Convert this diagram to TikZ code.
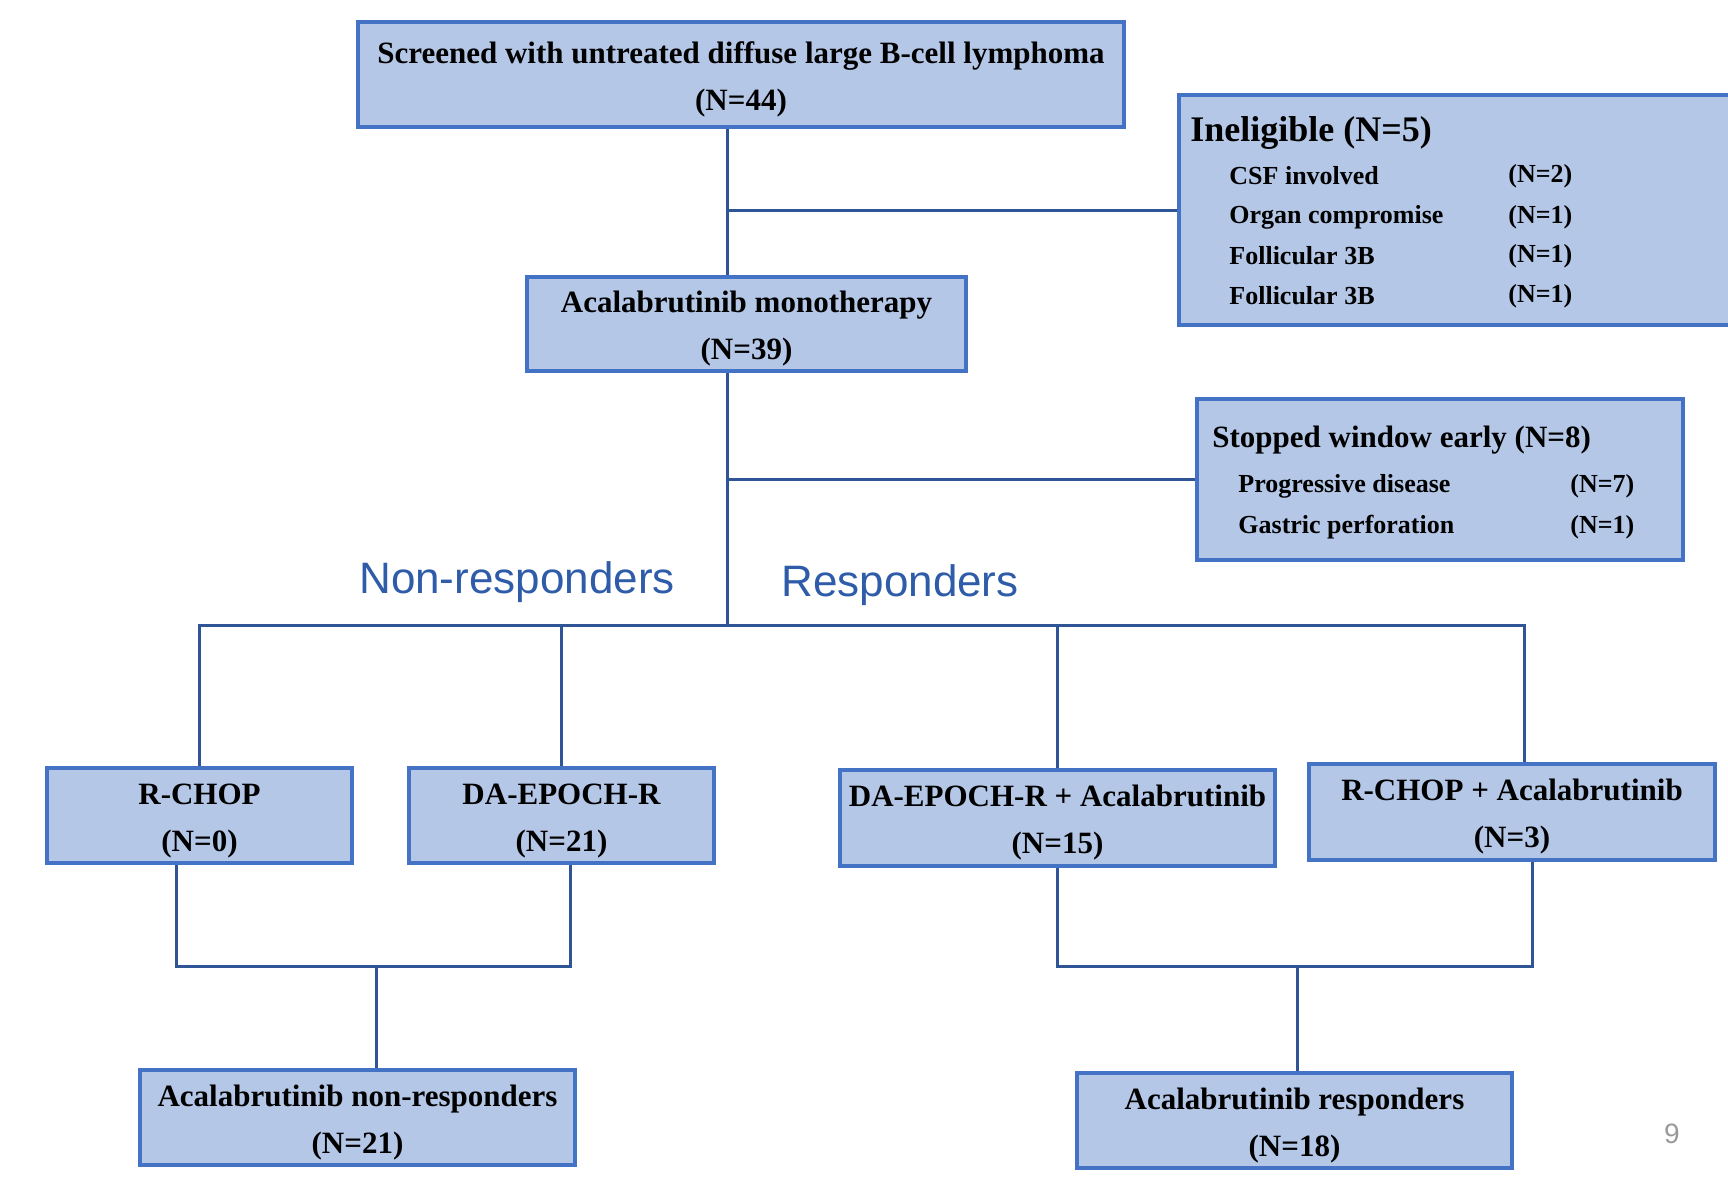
\documentclass[tikz,border=0pt]{standalone}
\usepackage{fontspec}
\setmainfont{Liberation Serif}
\newfontfamily\labelfont{Liberation Sans}
\usetikzlibrary{positioning}

\definecolor{boxfill}{HTML}{B4C7E7}
\definecolor{boxline}{HTML}{4472C4}
\definecolor{linkline}{HTML}{2F5597}
\definecolor{armblue}{HTML}{2E5CA8}

% two centred lines, the first one a little lower
\newcommand{\twolines}[2]{\rule{0pt}{15.5pt}#1\\#2}

\begin{document}
\begin{tikzpicture}[
    x=0.5pt, y=-0.5pt, % one unit is one pixel of the slide
    box/.style={draw=boxline, line width=2pt, fill=boxfill, inner sep=0pt,
        align=center, font=\fontsize{15.5}{23.5}\selectfont\bfseries},
    item/.style={anchor=west, inner sep=0pt, font=\fontsize{13}{15}\selectfont\bfseries},
    link/.style={draw=linkline, line width=1.5pt},
    arm/.style={text=armblue, font=\labelfont\fontsize{22}{26}\selectfont}
]
    \useasboundingbox (0,0) rectangle (1728,1191);
    \clip (0,0) rectangle (1728,1191);

    % Screening and window
    \node[box, minimum width=383pt, minimum height=52.5pt] (screen) at (741,74.5)
        {\twolines{Screened with untreated diffuse large B-cell lymphoma}{(N=44)}};
    \node[box, minimum width=219.5pt, minimum height=47pt] (mono) at (746.5,324)
        {\twolines{Acalabrutinib monotherapy}{(N=39)}};

    % Ineligible box (runs off the right edge)
    \node[box, minimum width=290pt, minimum height=115pt] (inelig) at (1469,210) {};
    \node[anchor=west, inner sep=0pt, font=\fontsize{18}{20}\selectfont\bfseries] (ineligtitle) at (1190,133) {Ineligible (N=5)};
    \node[item] (csf) at (1229,176) {CSF involved};
    \node[item] (organ) at (1229,217) {Organ compromise};
    \node[item] (follA) at (1229,256) {Follicular 3B};
    \node[item] (follB) at (1229,296) {Follicular 3B};
    \node[item] (csfn) at (1508,176) {(N=2)};
    \node[item] (organn) at (1508,217) {(N=1)};
    \node[item] (follAn) at (1508,256) {(N=1)};
    \node[item] (follBn) at (1508,296) {(N=1)};

    % Stopped window early box
    \node[box, minimum width=243pt, minimum height=80.5pt] (stopped) at (1440,479.5) {};
    \node[anchor=west, inner sep=0pt, font=\fontsize{15.5}{18}\selectfont\bfseries] (stoptitle) at (1212,440) {Stopped window early (N=8)};
    \node[item] (prog) at (1238,486) {Progressive disease};
    \node[item] (gastric) at (1238,527) {Gastric perforation};
    \node[item] (progn) at (1570,486) {(N=7)};
    \node[item] (gastricn) at (1570,527) {(N=1)};

    % Arm labels
    \node[arm] (nonlabel) at (517,582) {Non-responders};
    \node[arm] (reslabel) at (900,585) {Responders};

    % Treatment boxes
    \node[box, minimum width=152.5pt, minimum height=47.5pt] (rchop) at (199.5,815.5) {\twolines{R-CHOP}{(N=0)}};
    \node[box, minimum width=152.5pt, minimum height=47.5pt] (daepoch) at (561.5,815.5) {\twolines{DA-EPOCH-R}{(N=21)}};
    \node[box, minimum width=217.5pt, minimum height=48pt] (daepochA) at (1057.5,818) {\twolines{DA-EPOCH-R + Acalabrutinib}{(N=15)}};
    \node[box, minimum width=203pt, minimum height=48pt] (rchopA) at (1512,812) {\twolines{R-CHOP + Acalabrutinib}{(N=3)}};

    % Outcome boxes
    \node[box, minimum width=217.5pt, minimum height=47.5pt] (nonresp) at (357.5,1117.5) {\twolines{Acalabrutinib non-responders}{(N=21)}};
    \node[box, minimum width=217.5pt, minimum height=47.5pt] (resp) at (1294.5,1120.5) {\twolines{Acalabrutinib responders}{(N=18)}};

    % Slide number
    \node[text=gray!80, font=\labelfont\fontsize{14}{16}\selectfont] (pagenum) at (1672,1134) {9};

    % Connectors
    \coordinate (spine) at (727,0);
    \coordinate (split) at (727,625);
    \coordinate (njoin) at (376,966);
    \coordinate (rjoin) at (1297,966);
    \draw[link] (screen.south -| spine) -- (mono.north -| spine);
    \draw[link] (spine |- inelig.west) -- (inelig.west);
    \draw[link] (mono.south -| spine) -- (split);
    \draw[link] (spine |- stopped.west) -- (stopped.west);
    \draw[link] (rchop.north) |- (split) -| ([xshift=6pt]rchopA.north);
    \draw[link] (daepoch.north) -- (daepoch.north |- split);
    \draw[link] (daepochA.north) -- (daepochA.north |- split);
    \draw[link] ([xshift=-11.75pt]rchop.south) |- (njoin) -| ([xshift=4.25pt]daepoch.south);
    \draw[link] (njoin) -- (nonresp.north -| njoin);
    \draw[link] (daepochA.south) |- (rjoin) -| ([xshift=10pt]rchopA.south);
    \draw[link] (rjoin) -- (resp.north -| rjoin);

\end{tikzpicture}
\end{document}
